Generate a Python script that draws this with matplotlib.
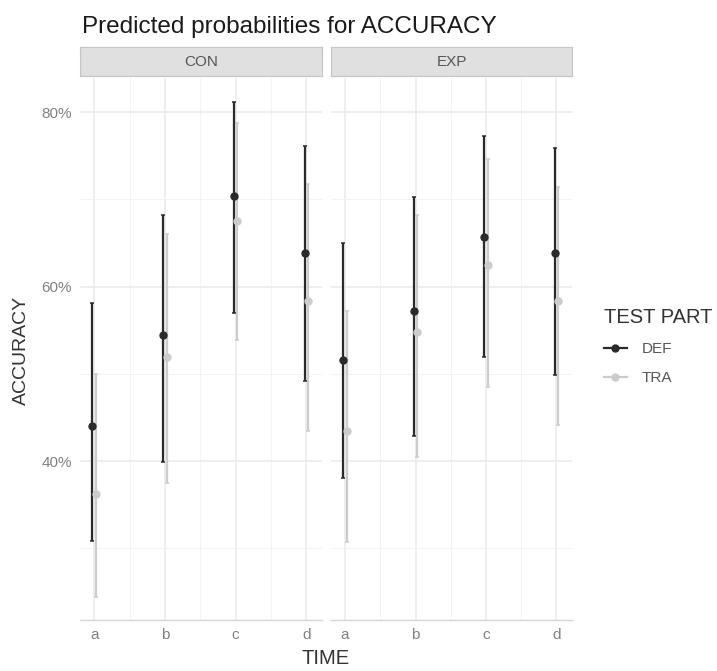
import numpy as np
import matplotlib
matplotlib.use("Agg")
import matplotlib.pyplot as plt
from matplotlib.lines import Line2D

plt.rcParams['font.family'] = ['Liberation Sans', 'DejaVu Sans']

# predicted probabilities (%)
times = ["a", "b", "c", "d"]
panels = ["CON", "EXP"]
parts = ["DEF", "TRA"]

con_def = [44.0, 54.4, 70.4, 63.8]
con_def_lo = [30.9, 39.9, 57.0, 49.2]
con_def_hi = [58.1, 68.2, 81.1, 76.1]
con_tra = [36.2, 51.9, 67.5, 58.3]
con_tra_lo = [24.4, 37.5, 53.9, 43.4]
con_tra_hi = [50.0, 66.0, 78.8, 71.7]

exp_def = [51.6, 57.2, 65.7, 63.9]
exp_def_lo = [38.1, 42.9, 51.9, 49.9]
exp_def_hi = [65.0, 70.3, 77.3, 75.9]
exp_tra = [43.5, 54.8, 62.5, 58.4]
exp_tra_lo = [30.7, 40.5, 48.5, 44.1]
exp_tra_hi = [57.2, 68.2, 74.6, 71.4]

series = {
    "CON": {"DEF": (con_def, con_def_lo, con_def_hi),
            "TRA": (con_tra, con_tra_lo, con_tra_hi)},
    "EXP": {"DEF": (exp_def, exp_def_lo, exp_def_hi),
            "TRA": (exp_tra, exp_tra_lo, exp_tra_hi)},
}
colors = {"DEF": "#2a2a2a", "TRA": "#cccccc"}
dodge = {"DEF": -0.025, "TRA": 0.025}

W, H = 717, 671
fig = plt.figure(figsize=(W / 100, H / 100), dpi=100)


def px_axes(x0, y0, x1, y1):
    return fig.add_axes([x0 / W, 1 - y1 / H, (x1 - x0) / W, (y1 - y0) / H])


panel_x = {"CON": (80, 322), "EXP": (331, 572)}
plot_top, plot_bot = 78, 620
strip_top, strip_bot = 47, 76

for name in panels:
    x0, x1 = panel_x[name]
    ax = px_axes(x0, plot_top, x1, plot_bot)
    xs = np.arange(1, len(times) + 1)
    # TRA first so DEF sits on top
    for part in ["TRA", "DEF"]:
        est, lo, hi = series[name][part]
        est = np.array(est)
        yerr = [est - np.array(lo), np.array(hi) - est]
        ax.errorbar(xs + dodge[part], est, yerr=yerr, fmt="o",
                    color=colors[part], ms=5, elinewidth=1.6,
                    capsize=1.6, capthick=1.1, zorder=3)
    ax.set_xlim(0.8, 4.22)
    ax.set_ylim(21.8, 83.9)
    ax.set_xticks(xs)
    ax.set_xticklabels(times)
    ax.set_xticks([1.5, 2.5, 3.5], minor=True)
    ax.set_yticks([40, 60, 80])
    ax.set_yticks([30, 50, 70], minor=True)
    if name == "CON":
        ax.set_yticklabels(["40%", "60%", "80%"])
    else:
        ax.set_yticklabels([])
    ax.grid(which="major", color="#ebebeb", linewidth=1.2)
    ax.grid(which="minor", color="#f3f3f3", linewidth=0.7)
    ax.set_axisbelow(True)
    ax.tick_params(which="both", length=0, labelsize=11, labelcolor="#808080", pad=6)
    for s in ["top", "right", "left"]:
        ax.spines[s].set_visible(False)
    ax.spines["bottom"].set_color("#d5d5d5")
    ax.spines["bottom"].set_linewidth(1.0)

    sax = px_axes(x0, strip_top, x1, strip_bot)
    sax.set_facecolor("#e0e0e0")
    sax.set_xticks([])
    sax.set_yticks([])
    for s in sax.spines.values():
        s.set_color("#c4c4c4")
        s.set_linewidth(0.8)
    sax.text(0.5, 0.5, name, ha="center", va="center", fontsize=11,
             color="#555555", transform=sax.transAxes)

fig.text(82 / W, 1 - 33 / H, "Predicted probabilities for ACCURACY",
         fontsize=17.5, color="#1a1a1a", ha="left", va="baseline")
fig.text(326 / W, 1 - 659 / H, "TIME", fontsize=14.5, color="#333333",
         ha="center", va="center")
fig.text(21 / W, 1 - 350 / H, "ACCURACY", fontsize=14, color="#333333",
         ha="center", va="center", rotation=90)

handles = [Line2D([], [], color=colors[p], marker="o", ms=5, lw=1.6) for p in parts]
leg = fig.legend(handles, parts, title="TEST PART", loc="upper left",
                 bbox_to_anchor=(590 / W, 1 - 294 / H), frameon=False,
                 fontsize=11, title_fontsize=14.5, handlelength=1.5,
                 labelspacing=1.0, handletextpad=1.0, alignment="left")
leg.get_title().set_color("#333333")
for t in leg.get_texts():
    t.set_color("#555555")

fig.savefig("out.png", dpi=100)
